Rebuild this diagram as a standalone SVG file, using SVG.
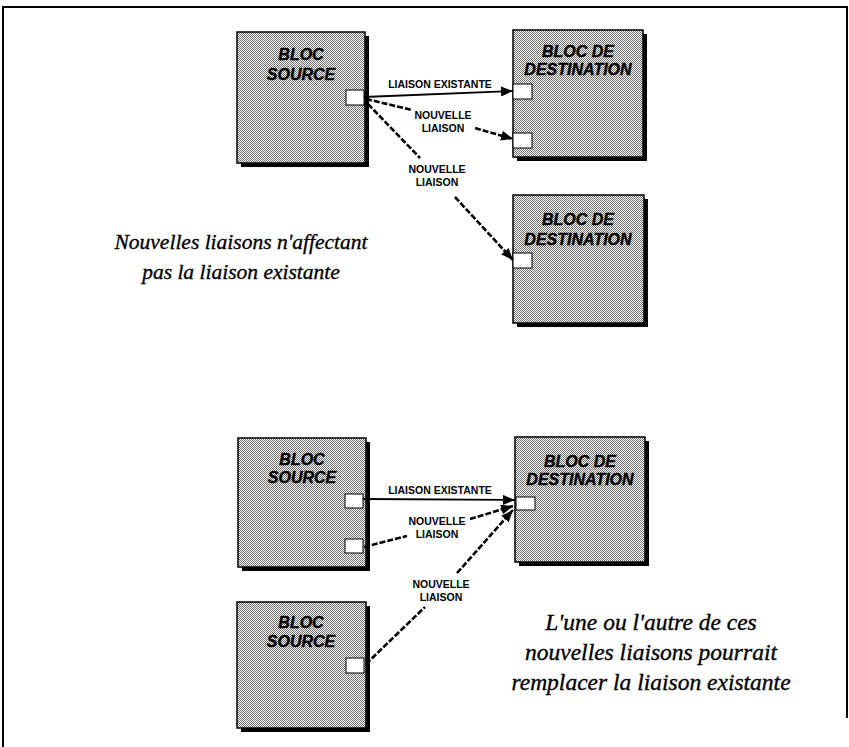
<svg xmlns="http://www.w3.org/2000/svg" width="849" height="747" viewBox="0 0 849 747">
<defs>
<pattern id="dots" width="2" height="2" patternUnits="userSpaceOnUse">
<rect width="2" height="2" fill="#ffffff"/>
<rect x="0" y="0" width="1" height="1" fill="#707070"/>
<rect x="1" y="1" width="1" height="1" fill="#707070"/>
</pattern>
<marker id="arr" markerUnits="userSpaceOnUse" markerWidth="13" markerHeight="10" refX="12" refY="5" orient="auto">
<path d="M0,0 L12,5 L0,10 Z" fill="#000"/>
</marker>
<style>
.shadow{fill:#000}
.box{fill:url(#dots);stroke:#000;stroke-width:1.5}
.port{fill:#fff;stroke:#000;stroke-width:1}
.bt{font-family:"Liberation Sans",Arial,sans-serif;font-weight:bold;font-style:italic;font-size:16px;text-anchor:middle;fill:#000;stroke:#000;stroke-width:0.4}
.lbl{font-family:"Liberation Sans",Arial,sans-serif;font-weight:bold;font-size:10.5px;text-anchor:middle;fill:#000}
.cap{font-family:"Liberation Serif","Times New Roman",serif;font-style:italic;text-anchor:middle;fill:#000;stroke:#000;stroke-width:0.35}
.c1{font-size:21.5px}
.c2{font-size:23.5px}
.solid{fill:none;stroke:#000;stroke-width:1.8}
.dash{fill:none;stroke:#000;stroke-width:2.6;stroke-dasharray:6 2}
.frame{fill:none;stroke:#000;stroke-width:2}
</style>
</defs>
<rect width="849" height="747" fill="#fff"/>
<g id="frame">
<path class="frame" d="M3,747 L3,7 L847,7 L847,718"/>
</g>
<g id="bloc-source-1">
<rect class="shadow" x="241" y="36" width="128" height="131"/>
<rect class="box" x="237" y="32" width="128" height="131"/>
<text class="bt" x="301" y="60">BLOC</text>
<text class="bt" x="301" y="80">SOURCE</text>
<rect class="port" x="346" y="90" width="18" height="15"/>
</g>
<g id="bloc-destination-1">
<rect class="shadow" x="517" y="34" width="130" height="127"/>
<rect class="box" x="513" y="30" width="130" height="127"/>
<text class="bt" x="578" y="57">BLOC DE</text>
<text class="bt" x="578" y="75">DESTINATION</text>
<rect class="port" x="513" y="84" width="19" height="15"/>
<rect class="port" x="513" y="133" width="19" height="15"/>
</g>
<g id="bloc-destination-2">
<rect class="shadow" x="517" y="199" width="131" height="128"/>
<rect class="box" x="513" y="195" width="131" height="128"/>
<text class="bt" x="578" y="225">BLOC DE</text>
<text class="bt" x="578" y="245">DESTINATION</text>
<rect class="port" x="513" y="253" width="19" height="15"/>
</g>
<g id="bloc-source-2">
<rect class="shadow" x="242" y="442" width="128" height="129"/>
<rect class="box" x="238" y="438" width="128" height="129"/>
<text class="bt" x="302" y="465">BLOC</text>
<text class="bt" x="302" y="483">SOURCE</text>
<rect class="port" x="345" y="494" width="18" height="14"/>
<rect class="port" x="345" y="539" width="18" height="14"/>
</g>
<g id="bloc-destination-3">
<rect class="shadow" x="519" y="441" width="130" height="125"/>
<rect class="box" x="515" y="437" width="130" height="125"/>
<text class="bt" x="580" y="467">BLOC DE</text>
<text class="bt" x="580" y="485">DESTINATION</text>
<rect class="port" x="516" y="497" width="19" height="13"/>
</g>
<g id="bloc-source-3">
<rect class="shadow" x="241" y="606" width="129" height="126"/>
<rect class="box" x="237" y="602" width="129" height="126"/>
<text class="bt" x="301" y="628">BLOC</text>
<text class="bt" x="301" y="647">SOURCE</text>
<rect class="port" x="346" y="658" width="18" height="15"/>
</g>
<g id="connectors">
<path class="solid" d="M364,97 L513,91" marker-end="url(#arr)"/>
<path class="dash" d="M366,99 L412,110"/>
<path class="dash" d="M475,128 L513,139" marker-end="url(#arr)"/>
<path class="dash" d="M368,104 L420,158"/>
<path class="dash" d="M455,197 L513,260" marker-end="url(#arr)"/>
<path class="solid" d="M363,499 L515,500" marker-end="url(#arr)"/>
<path class="dash" d="M364,547 L407,536"/>
<path class="dash" d="M470,519 L513,506" marker-end="url(#arr)"/>
<path class="dash" d="M366,664 L425,607"/>
<path class="dash" d="M457,573 L513,510" marker-end="url(#arr)"/>
</g>
<g id="labels">
<text class="lbl" x="440" y="88">LIAISON EXISTANTE</text>
<text class="lbl" x="443" y="119">NOUVELLE</text>
<text class="lbl" x="443" y="132">LIAISON</text>
<text class="lbl" x="437" y="173">NOUVELLE</text>
<text class="lbl" x="437" y="186">LIAISON</text>
<text class="lbl" x="440" y="494">LIAISON EXISTANTE</text>
<text class="lbl" x="437" y="525">NOUVELLE</text>
<text class="lbl" x="437" y="538">LIAISON</text>
<text class="lbl" x="441" y="588">NOUVELLE</text>
<text class="lbl" x="441" y="601">LIAISON</text>
</g>
<g id="captions">
<text class="cap c1" x="241" y="249">Nouvelles liaisons n'affectant</text>
<text class="cap c1" x="241" y="279">pas la liaison existante</text>
<text class="cap c2" x="651" y="630">L'une ou l'autre de ces</text>
<text class="cap c2" x="651" y="660">nouvelles liaisons pourrait</text>
<text class="cap c2" x="651" y="690">remplacer la liaison existante</text>
</g>
</svg>
